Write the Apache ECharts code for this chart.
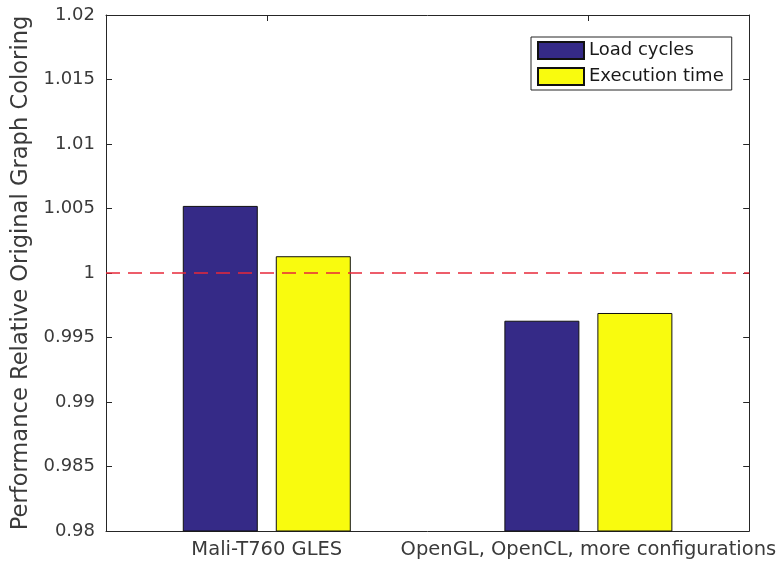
<!DOCTYPE html>
<html>
<head>
<meta charset="utf-8">
<script src="https://cdn.jsdelivr.net/npm/echarts@6/dist/echarts.min.js"></script>
<style>
  html, body { margin: 0; padding: 0; background: #fff; }
  #chart { width: 779px; height: 565px; }
</style>
</head>
<body>
<div id="chart"></div>
<script>
// Platforms compared
const categories = ['Mali-T760 GLES', 'OpenGL, OpenCL, more configurations'];
// Relative performance for each metric
const loadCycles = [1.0052, 0.9963];
const executionTime = [1.0013, 0.9969];
// Reference level (original coloring)
const baseline = 1;
// Y axis range and step
const yMin = 0.98, yMax = 1.02, yStep = 0.005;

const axisColor = '#262626';
const labelColor = '#3a3a3a';
const font = 'DejaVu Sans';

const chart = echarts.init(document.getElementById('chart'));
chart.setOption({
  animation: false,
  textStyle: { fontFamily: font },
  grid: { left: 106, right: 29, top: 15, bottom: 34 },
  legend: {
    data: ['Load cycles', 'Execution time'],
    orient: 'vertical',
    left: 531,
    top: 37,
    icon: 'rect',
    itemWidth: 46,
    itemHeight: 17,
    itemGap: 7,
    padding: [4, 8, 4, 6],
    backgroundColor: '#fff',
    borderColor: '#262626',
    borderWidth: 1,
    textStyle: { fontFamily: font, fontSize: 18, color: '#1a1a1a' }
  },
  xAxis: [
    {
      type: 'category',
      data: categories,
      position: 'bottom',
      axisLine: { lineStyle: { color: axisColor, width: 1 } },
      axisTick: { inside: true, length: 6, alignWithLabel: true, lineStyle: { color: axisColor } },
      axisLabel: { interval: 0, fontFamily: font, fontSize: 19.5, color: labelColor, margin: 9 }
    },
    {
      type: 'category',
      data: categories,
      position: 'top',
      axisLine: { show: true, lineStyle: { color: axisColor, width: 1 } },
      axisTick: { show: true, inside: true, length: 6, alignWithLabel: true, lineStyle: { color: axisColor } },
      axisLabel: { show: false }
    }
  ],
  yAxis: [
    {
      type: 'value',
      min: yMin, max: yMax, interval: yStep,
      position: 'left',
      axisLine: { show: true, lineStyle: { color: axisColor, width: 1 } },
      axisTick: { show: true, inside: true, length: 6, lineStyle: { color: axisColor } },
      splitLine: { show: false },
      axisLabel: {
        fontFamily: font, fontSize: 18, color: labelColor, margin: 11,
        formatter: v => String(parseFloat(v.toFixed(3)))
      },
      name: 'Performance Relative Original Graph Coloring',
      nameLocation: 'middle',
      nameGap: 73,
      nameTextStyle: { fontFamily: font, fontSize: 22.6, color: labelColor }
    },
    {
      type: 'value',
      min: yMin, max: yMax, interval: yStep,
      position: 'right',
      axisLine: { show: true, lineStyle: { color: axisColor, width: 1 } },
      axisTick: { show: true, inside: true, length: 6, lineStyle: { color: axisColor } },
      splitLine: { show: false },
      axisLabel: { show: false }
    }
  ],
  series: [
    {
      name: 'Load cycles',
      type: 'bar',
      data: loadCycles,
      barWidth: 75,
      barGap: '24%',
      itemStyle: { color: '#352a87', borderColor: '#111', borderWidth: 1 },
      markLine: {
        silent: true,
        symbol: 'none',
        label: { show: false },
        lineStyle: { color: '#e8283a', type: [14, 8], width: 1.6, opacity: 1 },
        data: [{ yAxis: baseline }]
      }
    },
    {
      name: 'Execution time',
      type: 'bar',
      data: executionTime,
      barWidth: 75,
      barGap: '24%',
      itemStyle: { color: '#f9fb0e', borderColor: '#111', borderWidth: 1 }
    }
  ]
});
</script>
</body>
</html>
